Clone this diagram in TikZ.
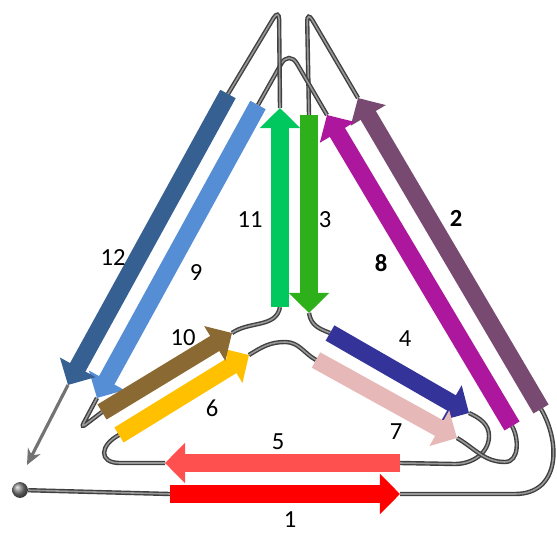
\documentclass[tikz,border=0pt]{standalone}
\usepackage{fontspec}
\setmainfont{Carlito}
\usetikzlibrary{arrows.meta}
\definecolor{strandred}{HTML}{FF0000}
\definecolor{strandplum}{HTML}{784A71}
\definecolor{strandgreen}{HTML}{2EB01A}
\definecolor{strandnavy}{HTML}{333399}
\definecolor{strandsalmon}{HTML}{FF5050}
\definecolor{strandgold}{HTML}{FFC000}
\definecolor{strandrose}{HTML}{E6B9B8}
\definecolor{strandmagenta}{HTML}{AD179D}
\definecolor{strandsky}{HTML}{558ED5}
\definecolor{strandbrown}{HTML}{8A6A32}
\definecolor{strandmint}{HTML}{00C85F}
\definecolor{strandsteel}{HTML}{376092}
\tikzset{
  strand/.style={draw=#1, line width=10pt, -{Triangle[length=11.5pt, width=22.5pt]}},
  coil/.style={draw=black!75, double=black!40, line width=0.8pt, double distance=0.9pt},
  lbl/.style={font=\fontsize{14}{16}\selectfont, inner sep=0pt}
}

\begin{document}
\begin{tikzpicture}[x=0.02cm, y=-0.02cm]
  \useasboundingbox (0,0) rectangle (557,533);
  % ends of the strands
  \coordinate (s1a) at (170,494);  \coordinate (s1b) at (400,494);
  \coordinate (s2a) at (541,409);  \coordinate (s2b) at (358,98);
  \coordinate (s3a) at (309,115);  \coordinate (s3b) at (309,313);
  \coordinate (s4a) at (330,333);  \coordinate (s4b) at (469,413);
  \coordinate (s5a) at (400,463);  \coordinate (s5b) at (165,463);
  \coordinate (s6a) at (119,435);  \coordinate (s6b) at (249,355);
  \coordinate (s7a) at (316,360);  \coordinate (s7b) at (457,438);
  \coordinate (s8a) at (512,426);  \coordinate (s8b) at (327,115);
  \coordinate (s9a) at (258,105);  \coordinate (s9b) at (97,398);
  \coordinate (s10a) at (102,412); \coordinate (s10b) at (232,333);
  \coordinate (s11a) at (280,307); \coordinate (s11b) at (280,108);
  \coordinate (s12a) at (228,94);  \coordinate (s12b) at (68,385);
  \coordinate (cterm) at (27,465);
  \node[circle, shade, ball color=gray, minimum size=9pt, inner sep=0pt] (nterm) at (20,490) {};

  % loops
  \draw[coil] (nterm) -- (s1a);
  \draw[coil] (s1b) -- (515,494) .. controls (560,494) and (561,443) .. (s2a);
  \draw[coil, rounded corners=6pt] (s2b) -- (307,11) -- (s3a);
  \draw[coil] (s3b) .. controls (311,326) and (320,329) .. (s4a);
  \draw[coil] (s4b) to[out=-25, in=90] (489,436) to[out=-90, in=0] (455,464) -- (s5a);
  \draw[coil] (s5b) -- (120,463) .. controls (98,463) and (100,445) .. (s6a);
  \draw[coil] (s6b) to[out=32, in=180] (285,342) to[out=0, in=151] (s7a);
  \draw[coil] (s7b) to[out=-30, in=180] (505,462) to[out=0, in=-60] (s8a);
  \draw[coil, rounded corners=9pt] (s8b) -- (289,50) -- (s9a);
  \draw[coil, rounded corners=3pt] (s9b) -- (81,428) -- (s10a);
  \draw[coil] (s10b) to[out=35, in=-100] (s11a);
  \draw[coil, rounded corners=6pt] (s11b) -- (279,9) -- (s12a);
  \draw[black!55, line width=1.8pt, -{Stealth[length=9pt, width=8pt]}] (s12b) -- (cterm);

  % strands
  \draw[strand=strandred] (s1a) -- (s1b);
  \draw[strand=strandplum] (s2a) -- (s2b);
  \draw[strand=strandgreen] (s3a) -- (s3b);
  \draw[strand=strandnavy] (s4a) -- (s4b);
  \draw[strand=strandsalmon] (s5a) -- (s5b);
  \draw[strand=strandgold] (s6a) -- (s6b);
  \draw[strand=strandrose] (s7a) -- (s7b);
  \draw[strand=strandmagenta] (s8a) -- (s8b);
  \draw[strand=strandsky] (s9a) -- (s9b);
  \draw[strand=strandbrown] (s10a) -- (s10b);
  \draw[strand=strandmint] (s11a) -- (s11b);
  \draw[strand=strandsteel] (s12a) -- (s12b);

  \node[lbl] (l1) at (290,520) {1};
  \node[lbl] (l2) at (456,218) {\textbf{2}};
  \node[lbl] (l3) at (325,220) {3};
  \node[lbl] (l4) at (405,339) {4};
  \node[lbl] (l5) at (278,442) {5};
  \node[lbl] (l6) at (212,408) {6};
  \node[lbl] (l7) at (396,432) {7};
  \node[lbl] (l8) at (381,263) {\textbf{8}};
  \node[lbl] (l9) at (196,273) {9};
  \node[lbl] (l10) at (183,338) {10};
  \node[lbl] (l11) at (250,220) {11};
  \node[lbl] (l12) at (113,258) {12};
\end{tikzpicture}
\end{document}
